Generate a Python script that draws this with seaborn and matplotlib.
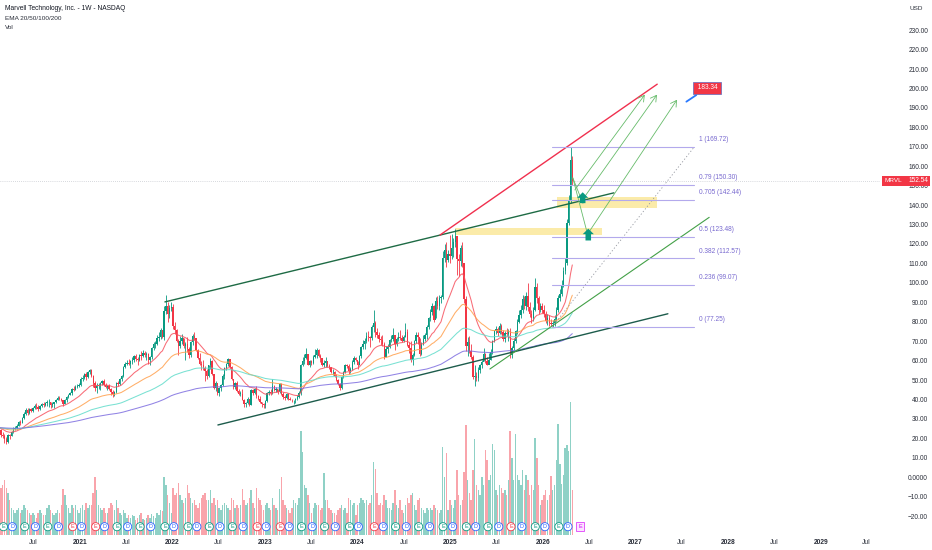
import numpy as np
import pandas as pd
import matplotlib
matplotlib.use("Agg")
import matplotlib.pyplot as plt
import matplotlib.dates as mdates
import matplotlib.transforms as mtransforms
from matplotlib.patches import Rectangle
import seaborn as sns

# ------------------------------------------------------------------ data
first_date = "2020-02-10"
first_open = 24.9

closes_2020 = [25.5, 24.5, 21.5, 21.0, 19.5, 18.0, 21.5, 21.0, 23.5, 25.0,
               25.5, 26.5, 28.5, 28.0, 30.5, 32.6, 34.5, 33.0, 35.0, 34.0,
               35.5, 36.5, 36.0, 35.0, 36.5, 37.5, 37.0, 38.0, 38.5, 38.5,
               37.0, 37.5, 38.5, 40.0, 41.0, 40.5, 39.5, 37.5, 40.0, 41.5,
               42.5, 43.5, 45.5, 45.0, 46.5, 47.0, 47.5]
highs_2020 = [26.4, 26.0, 24.8, 23.5, 22.0, 20.5, 22.5, 22.0, 24.0, 25.6,
              26.2, 27.5, 29.0, 29.5, 31.0, 33.5, 35.5, 35.8, 35.5, 35.8,
              36.0, 37.5, 38.0, 37.0, 37.2, 38.2, 38.5, 38.6, 39.5, 40.5,
              38.8, 38.5, 38.9, 40.5, 41.8, 42.0, 41.0, 40.0, 40.5, 42.0,
              43.0, 44.0, 46.0, 46.8, 47.5, 48.0, 48.5]
lows_2020 = [24.6, 24.0, 20.8, 20.3, 17.8, 16.9, 17.8, 19.8, 21.0, 23.0,
             24.2, 25.0, 26.3, 27.0, 28.0, 30.2, 32.0, 32.0, 32.5, 33.5,
             33.5, 35.0, 35.0, 34.0, 34.5, 36.0, 36.2, 36.8, 36.5, 36.0,
             35.5, 36.2, 35.8, 38.3, 39.8, 40.0, 39.0, 36.5, 37.5, 38.5,
             41.0, 42.2, 42.5, 44.5, 44.8, 46.0, 46.5]
vols_2020 = [60, 70, 95, 100, 110, 95, 85, 70, 55, 50,
             45, 50, 55, 45, 50, 60, 55, 50, 45, 40,
             45, 40, 35, 45, 50, 45, 40, 40, 55, 60,
             50, 45, 40, 45, 50, 45, 60, 92, 80, 60,
             55, 45, 60, 55, 60, 50, 45]

closes_2021 = [50.5, 51.0, 53.0, 51.5, 54.0, 55.0, 52.0, 48.5, 46.0, 47.0,
               47.5, 48.5, 49.5, 47.5, 46.5, 47.0, 45.5, 44.0, 43.0, 44.0,
               48.5, 48.0, 50.5, 52.0, 56.5, 58.5, 59.0, 58.5, 60.0, 60.5,
               62.5, 61.0, 60.5, 63.0, 62.5, 64.0, 63.0, 63.5, 60.5, 62.0,
               66.5, 68.5, 68.5, 71.5, 72.0, 75.5, 72.0, 85.5, 88.0, 84.0,
               87.0, 87.5]
highs_2021 = [51.5, 52.5, 53.8, 54.0, 54.5, 55.8, 55.5, 52.5, 49.5, 48.5,
              48.5, 49.0, 50.0, 50.5, 48.5, 47.5, 48.0, 46.0, 45.0, 44.5,
              49.0, 49.5, 51.0, 52.5, 57.0, 59.5, 60.5, 61.0, 60.5, 62.0,
              63.0, 63.5, 62.0, 63.5, 65.0, 65.5, 65.0, 64.5, 64.0, 62.5,
              67.0, 69.5, 70.0, 73.0, 74.5, 77.0, 76.0, 88.0, 93.8, 90.0,
              88.5, 90.0]
lows_2021 = [46.8, 49.5, 50.5, 50.0, 51.0, 53.2, 51.5, 46.5, 44.5, 43.5,
             45.5, 45.0, 47.5, 47.0, 45.8, 45.0, 45.0, 42.5, 41.5, 42.0,
             43.5, 47.0, 47.5, 49.5, 51.5, 56.0, 57.5, 57.5, 56.0, 58.5,
             59.5, 60.0, 58.0, 60.0, 60.5, 62.0, 62.0, 60.5, 58.5, 57.5,
             61.0, 65.5, 66.5, 68.0, 70.0, 71.0, 71.5, 70.5, 84.0, 80.0,
             82.0, 85.5]
vols_2021 = [55, 60, 50, 65, 55, 60, 60, 85, 116, 90,
             60, 55, 50, 55, 45, 45, 55, 65, 60, 50,
             70, 55, 45, 40, 50, 45, 35, 40, 35, 40,
             38, 30, 35, 40, 45, 32, 30, 35, 40, 35,
             42, 38, 35, 45, 40, 50, 48, 116, 100, 80,
             65, 45]

closes_2022 = [78.0, 75.5, 70.0, 67.5, 70.0, 71.5, 67.5, 68.5, 66.0, 63.0,
               69.5, 72.5, 71.5, 65.5, 61.5, 58.5, 58.0, 56.0, 54.5, 52.0,
               57.5, 60.0, 53.0, 46.0, 48.5, 43.5, 46.0, 47.5, 52.0, 56.0,
               58.5, 61.0, 56.5, 50.5, 46.5, 48.5, 44.5, 43.0, 43.0, 40.0,
               37.5, 38.0, 40.5, 37.0, 45.0, 43.5, 45.5, 42.0, 40.5, 38.5,
               37.5, 37.0]
highs_2022 = [89.0, 80.0, 76.5, 71.0, 72.5, 73.5, 71.5, 69.5, 72.0, 67.0,
              70.0, 73.5, 74.5, 71.0, 66.0, 64.0, 60.0, 60.5, 57.0, 55.5,
              58.0, 61.5, 60.5, 52.0, 49.5, 48.5, 46.5, 48.0, 53.0, 56.5,
              59.0, 61.5, 61.0, 57.0, 50.5, 49.0, 49.5, 45.5, 44.5, 45.5,
              40.5, 38.5, 41.5, 40.5, 45.5, 45.5, 46.0, 47.0, 42.5, 42.0,
              38.5, 38.0]
lows_2022 = [76.5, 73.5, 69.5, 63.0, 66.5, 68.5, 66.5, 60.5, 64.5, 61.5,
             62.0, 68.0, 70.5, 65.0, 61.0, 58.0, 55.0, 55.0, 49.5, 50.5,
             51.5, 55.5, 52.5, 45.5, 44.5, 42.5, 42.0, 44.5, 47.0, 50.5,
             55.0, 57.0, 56.0, 50.0, 45.5, 45.5, 44.0, 42.5, 42.0, 39.5,
             36.0, 36.0, 37.5, 36.5, 37.0, 42.5, 43.0, 41.0, 39.5, 38.0,
             36.0, 35.5]
vols_2022 = [95, 80, 85, 104, 80, 70, 65, 75, 100, 85,
             75, 65, 70, 60, 55, 65, 75, 80, 85, 70,
             70, 90, 65, 75, 60, 70, 55, 50, 60, 65,
             60, 55, 50, 75, 70, 55, 60, 55, 60, 92,
             70, 60, 65, 75, 90, 65, 55, 95, 75, 70,
             60, 50]

closes_2023 = [39.0, 43.5, 44.0, 43.5, 47.0, 45.0, 45.5, 44.0, 48.0, 43.0,
               41.5, 41.0, 43.0, 40.5, 40.0, 39.5, 39.5, 40.5, 41.5, 43.5,
               57.5, 60.0, 61.5, 63.5, 58.0, 59.8, 59.0, 62.0, 63.0, 65.5,
               62.5, 61.5, 57.5, 59.0, 60.0, 57.0, 56.5, 54.0, 54.2, 52.0,
               50.0, 48.0, 46.0, 51.5, 54.0, 57.5, 57.0, 54.5, 55.5, 59.5,
               61.5, 60.3]
highs_2023 = [39.5, 44.0, 45.0, 45.5, 50.5, 47.5, 46.5, 45.5, 48.5, 48.5,
              44.0, 42.5, 43.5, 43.5, 41.5, 40.5, 40.0, 41.0, 42.5, 44.5,
              58.5, 62.0, 63.5, 66.5, 63.5, 60.5, 60.5, 63.0, 66.0, 66.5,
              66.0, 63.5, 61.5, 60.5, 62.0, 60.0, 58.5, 56.5, 55.5, 54.5,
              53.0, 50.5, 48.5, 52.0, 54.5, 58.5, 58.5, 58.5, 56.5, 60.5,
              62.5, 62.0]
lows_2023 = [35.5, 38.5, 42.5, 42.5, 43.0, 44.5, 44.0, 43.0, 43.5, 42.5,
             40.5, 40.0, 40.5, 40.0, 39.5, 38.5, 37.5, 38.0, 40.0, 41.0,
             42.5, 57.0, 58.5, 61.0, 57.5, 56.5, 58.0, 58.5, 61.5, 61.5,
             62.0, 59.5, 57.0, 56.5, 56.5, 56.5, 55.5, 53.5, 52.5, 51.5,
             49.5, 47.5, 45.0, 45.5, 51.0, 53.5, 56.0, 53.0, 53.5, 55.0,
             58.5, 60.0]
vols_2023 = [60, 65, 55, 50, 75, 60, 55, 50, 92, 116,
             70, 60, 55, 50, 45, 55, 70, 65, 60, 75,
             208, 166, 100, 95, 80, 65, 45, 55, 65, 60,
             60, 50, 55, 124, 70, 70, 55, 50, 45, 45,
             40, 50, 55, 60, 50, 55, 45, 75, 70, 60,
             65, 40]

closes_2024 = [58.0, 62.5, 67.0, 68.5, 70.0, 72.5, 72.0, 71.5, 77.5, 79.5,
               74.5, 73.0, 70.9, 70.5, 68.5, 62.0, 66.0, 67.0, 70.5, 71.0,
               73.0, 68.5, 71.0, 72.0, 71.5, 70.0, 72.0, 74.5, 68.0, 66.5,
               60.5, 63.0, 70.0, 73.0, 72.0, 63.5, 68.5, 71.0, 73.0, 77.5,
               82.0, 85.0, 88.0, 81.0, 90.5, 88.0, 92.0, 92.7, 113.0, 117.0,
               112.0, 115.0, 114.0]
highs_2024 = [60.0, 63.0, 67.5, 70.5, 71.5, 74.5, 75.0, 72.5, 78.5, 85.8,
              80.5, 77.0, 74.5, 72.5, 73.0, 69.5, 67.5, 68.5, 71.0, 73.0,
              77.0, 72.5, 72.0, 74.5, 76.0, 73.0, 73.0, 79.5, 76.5, 69.5,
              70.0, 64.0, 70.5, 74.5, 74.5, 71.5, 69.5, 73.0, 74.0, 78.5,
              82.5, 86.5, 89.5, 88.5, 92.5, 93.0, 93.5, 94.0, 116.5, 120.0,
              121.0, 117.0, 124.5]
lows_2024 = [55.5, 57.5, 61.5, 66.0, 66.0, 69.0, 70.0, 67.0, 70.5, 74.5,
             72.0, 71.5, 69.5, 68.0, 67.5, 61.0, 62.0, 64.0, 66.5, 69.5,
             70.0, 65.5, 67.5, 70.0, 70.5, 69.5, 69.5, 72.0, 67.5, 64.0,
             59.5, 57.5, 62.5, 69.0, 68.5, 62.5, 63.0, 68.0, 70.0, 71.0,
             76.5, 80.5, 83.5, 80.0, 82.0, 86.5, 86.0, 89.5, 91.5, 110.5,
             108.0, 110.5, 110.0]
vols_2024 = [60, 65, 75, 70, 65, 70, 60, 65, 80, 146,
             132, 85, 60, 65, 60, 80, 70, 55, 55, 50,
             65, 90, 60, 55, 70, 50, 45, 60, 75, 65,
             80, 85, 60, 50, 70, 75, 55, 50, 45, 55,
             50, 55, 50, 60, 55, 50, 45, 50, 176, 116,
             164, 50, 70]

closes_2025 = [118.0, 121.0, 124.0, 112.5, 111.0, 118.0, 110.0, 91.5, 67.5, 69.5,
               65.0, 62.0, 51.5, 52.0, 51.0, 55.0, 57.5, 59.5, 63.5, 60.0,
               57.8, 60.5, 64.5, 70.0, 75.0, 76.5, 74.0, 78.0, 74.5, 71.0,
               74.0, 73.5, 75.0, 63.0, 66.5, 70.0, 75.0, 80.0, 83.5, 86.0,
               91.5, 88.0, 93.0, 87.5, 84.0, 82.0, 86.0, 98.0, 92.0, 86.0,
               88.0, 86.0]
highs_2025 = [125.0, 123.0, 127.5, 124.0, 115.0, 119.5, 121.0, 109.5, 93.0, 72.0,
              72.5, 68.5, 63.0, 58.0, 54.0, 56.5, 58.5, 60.5, 66.5, 64.0,
              62.0, 64.0, 66.0, 70.5, 76.0, 78.0, 77.5, 79.5, 79.0, 76.0,
              75.0, 77.0, 76.5, 77.0, 67.5, 71.5, 76.0, 81.5, 86.0, 88.5,
              94.0, 93.0, 95.5, 100.0, 90.0, 86.0, 87.5, 102.5, 100.0, 93.0,
              89.5, 89.5]
lows_2025 = [112.5, 113.5, 118.5, 104.0, 103.5, 108.5, 108.0, 89.5, 65.0, 62.5,
             64.0, 61.0, 50.5, 47.1, 49.5, 49.5, 53.5, 56.0, 60.0, 59.0,
             57.5, 58.5, 60.5, 63.5, 69.5, 73.5, 72.5, 73.5, 73.5, 70.0,
             69.5, 72.5, 70.0, 61.5, 61.5, 65.5, 69.0, 73.5, 79.5, 82.0,
             84.5, 86.5, 86.0, 85.5, 82.5, 79.5, 80.5, 85.5, 89.5, 84.0,
             85.0, 84.5]
vols_2025 = [60, 55, 70, 130, 80, 60, 70, 126, 220, 110,
             85, 70, 130, 192, 100, 90, 80, 116, 100, 170,
             150, 110, 120, 182, 170, 90, 80, 100, 95, 85,
             90, 80, 110, 208, 154, 110, 202, 120, 110, 100,
             130, 90, 120, 110, 80, 100, 90, 194, 154, 100,
             60, 70]

closes_2026 = [84.0, 80.5, 82.0, 79.5, 79.0, 79.5, 81.5, 86.0, 92.0, 94.5,
               99.0, 106.0, 110.0, 131.0, 142.0, 163.0, 152.54]
highs_2026 = [88.5, 85.5, 84.0, 83.5, 81.5, 81.0, 83.5, 87.5, 94.0, 97.0,
              101.5, 108.0, 113.0, 133.0, 145.0, 169.72, 165.0]
lows_2026 = [82.5, 79.5, 78.5, 78.0, 77.8, 77.25, 78.0, 80.5, 85.0, 90.5,
             93.0, 98.0, 104.5, 109.0, 130.0, 141.0, 150.5]
vols_2026 = [80, 90, 70, 80, 118, 90, 100, 150, 222, 142,
             102, 120, 174, 180, 168, 266, 90]

ema_periods = [20, 50, 100, 200]
ema_colors = ["#f7525f", "#ffa04d", "#62dccb", "#7e6ee0"]

y_ticks = list(range(-20, 240, 10))
x_tick_dates = ["2020-07-01", "2021-01-01", "2021-07-01", "2022-01-01", "2022-07-01",
                "2023-01-01", "2023-07-01", "2024-01-01", "2024-07-01", "2025-01-01",
                "2025-07-01", "2026-01-01", "2026-07-01", "2027-01-01", "2027-07-01",
                "2028-01-01", "2028-07-01", "2029-01-01", "2029-07-01"]
x_tick_labels = ["Jul", "2021", "Jul", "2022", "Jul", "2023", "Jul", "2024", "Jul", "2025",
                 "Jul", "2026", "Jul", "2027", "Jul", "2028", "Jul", "2029", "Jul"]

earn_dates = ["2020-03-05", "2020-05-28", "2020-08-27", "2020-12-03", "2021-03-04",
              "2021-05-27", "2021-08-26", "2021-12-02", "2022-03-03", "2022-05-26",
              "2022-08-25", "2022-12-01", "2023-03-02", "2023-05-25", "2023-08-24",
              "2023-11-30", "2024-03-07", "2024-05-30", "2024-08-29", "2024-12-03",
              "2025-03-05", "2025-05-29", "2025-08-28", "2025-12-02", "2026-03-05"]
earn_beat = [1, 1, 1, 0, 0, 1, 1, 1, 1, 1, 1, 0, 0, 1, 1, 1, 0, 1, 1, 1, 1, 1, 0, 1, 1]
next_earn = "2026-05-28"
div_dates = ["2020-04-09", "2020-07-09", "2020-10-08", "2021-01-07", "2021-04-08",
             "2021-07-08", "2021-10-07", "2022-01-06", "2022-04-07", "2022-07-07",
             "2022-10-06", "2023-01-05", "2023-04-06", "2023-07-06", "2023-10-05",
             "2024-01-04", "2024-04-11", "2024-07-11", "2024-10-11", "2025-01-10",
             "2025-04-11", "2025-07-11", "2025-10-10", "2026-01-09", "2026-04-10"]

# drawings (anchor points: date, price)
upper_channel = [("2021-12-02", 90.2), ("2026-10-08", 146.3)]
lower_channel = [("2022-06-29", 26.9), ("2027-05-09", 84.1)]
red_line = [("2024-11-21", 124.6), ("2027-03-28", 202.2)]
green_line = [("2025-06-06", 55.7), ("2027-10-19", 133.7)]
fib_start, fib_end = "2026-02-06", "2027-08-20"
fib_ratios = ["1", "0.79", "0.705", "0.5", "0.382", "0.236", "0"]
fib_values = [169.72, 150.30, 142.44, 123.48, 112.57, 99.07, 77.25]
zones = [("2026-02-26", "2027-03-28", 138.4, 144.3),
         ("2025-01-19", "2026-08-21", 124.4, 128.1)]
big_arrows = [("2026-06-07", 141.0, 146.6), ("2026-06-29", 121.8, 127.9)]
down_paths = [(("2026-04-29", 154.0), ("2026-06-08", 140.9)),
              (("2026-04-29", 154.0), ("2026-06-28", 124.1))]
target_paths = [(("2026-05-07", 147.8), ("2027-02-07", 196.8)),
                (("2026-06-12", 143.8), ("2027-03-27", 196.8)),
                (("2026-07-02", 126.2), ("2027-06-14", 194.2))]
note_text = "183.34"
note_anchor = ("2027-10-12", 200.3)
note_pointer = [("2027-07-21", 193.2), ("2027-08-29", 196.6)]
last_price = 152.54

# ------------------------------------------------------------------ prep
closes = np.array(closes_2020 + closes_2021 + closes_2022 + closes_2023 + closes_2024 + closes_2025 + closes_2026)
highs = np.array(highs_2020 + highs_2021 + highs_2022 + highs_2023 + highs_2024 + highs_2025 + highs_2026)
lows = np.array(lows_2020 + lows_2021 + lows_2022 + lows_2023 + lows_2024 + lows_2025 + lows_2026)
vols = np.array(vols_2020 + vols_2021 + vols_2022 + vols_2023 + vols_2024 + vols_2025 + vols_2026)
n = len(closes)
if not (len(highs) == len(lows) == len(vols) == n):
    raise SystemExit(f"length mismatch {n} {len(highs)} {len(lows)} {len(vols)}")
opens = np.concatenate([[first_open], closes[:-1]])
dates = pd.date_range(first_date, periods=n, freq="W-MON")
xd = mdates.date2num(dates.to_pydatetime())

df = pd.DataFrame({"x": xd, "close": closes})
for p in ema_periods:
    df[f"ema{p}"] = df["close"].ewm(span=p, adjust=False).mean()


def D(s):
    return mdates.date2num(pd.Timestamp(s).to_pydatetime())


UP, DOWN = "#089981", "#f23645"
up = closes >= opens
cols = np.where(up, UP, DOWN)

# ------------------------------------------------------------------ figure
sns.set_theme(style="white")
plt.rcParams["font.family"] = ["Liberation Sans", "DejaVu Sans"]

W, H = 932, 550
fig = plt.figure(figsize=(W / 100, H / 100), dpi=100, facecolor="white")
pos = [0, 15 / H, 880 / W, 535 / H]
vax = fig.add_axes(pos, zorder=0)
ax = fig.add_axes(pos, zorder=1)
ax.patch.set_alpha(0)

x0 = D("2021-01-01") - 315.6
x1 = D("2021-01-01") + 3155.8
for a in (ax, vax):
    a.set_xlim(x0, x1)
    for s in a.spines.values():
        s.set_visible(False)

# volume
vax.bar(xd, vols, width=5.6, color=cols, alpha=0.45, linewidth=0)
vax.set_ylim(0, 1070)
vax.set_xticks([])
vax.set_yticks([])

# candles
ax.vlines(xd, lows, highs, colors=cols, linewidth=0.6, zorder=3)
body_lo = np.minimum(opens, closes)
body_h = np.maximum(np.abs(closes - opens), 0.4)
ax.bar(xd, body_h, bottom=body_lo, width=5.4, color=cols, linewidth=0, zorder=3)

# EMAs
for p, c in zip(ema_periods, ema_colors):
    sns.lineplot(data=df, x="x", y=f"ema{p}", ax=ax, color=c, linewidth=0.75,
                 alpha=0.85, estimator=None, sort=False, legend=False, zorder=4)

ax.set_ylim(-29.7, 245.5)
ax.set_xlabel("")
ax.set_ylabel("")

# last price line
ax.axhline(last_price, color="#b2b5be", linewidth=0.5, linestyle=(0, (1, 2)), zorder=2)

# yellow zones
for a_, b_, lo_, hi_ in zones:
    ax.add_patch(Rectangle((D(a_), lo_), D(b_) - D(a_), hi_ - lo_, facecolor="#fbe89a",
                           edgecolor="none", alpha=0.85, zorder=1))

# trend lines
def seg(pts, **kw):
    ax.plot([D(pts[0][0]), D(pts[1][0])], [pts[0][1], pts[1][1]], **kw)

seg(upper_channel, color="#1e6b45", linewidth=1.0, zorder=5)
seg(lower_channel, color="#1d5c4c", linewidth=1.0, zorder=5)
seg(red_line, color="#f0304e", linewidth=1.0, zorder=5)
seg(green_line, color="#43a047", linewidth=0.8, zorder=5)

# fib retracement
fx0, fx1 = D(fib_start), D(fib_end)
ax.plot([fx0, fx1], [fib_values[-1], fib_values[0]], color="#9598a1", linewidth=0.6,
        linestyle=(0, (1.5, 2.5)), zorder=5)
for r, v in zip(fib_ratios, fib_values):
    ax.plot([fx0, fx1], [v, v], color="#b3a9ec", linewidth=0.8, zorder=5)
    ax.text(fx1 + 20, v + 2.0, f"{r} ({v:.2f})", fontsize=4.7, color="#7768cf",
            ha="left", va="bottom", zorder=6)

# projection paths
for p0, p1 in down_paths:
    seg((p0, p1), color="#66bb6a", linewidth=0.6, zorder=6)
for p0, p1 in target_paths:
    ax.annotate("", xy=(D(p1[0]), p1[1]), xytext=(D(p0[0]), p0[1]),
                arrowprops=dict(arrowstyle="->,head_length=0.35,head_width=0.2",
                                color="#66bb6a", linewidth=0.6, shrinkA=0, shrinkB=0),
                zorder=6)

# big up arrows
for d_, lo_, hi_ in big_arrows:
    ax.annotate("", xy=(D(d_), hi_), xytext=(D(d_), lo_),
                arrowprops=dict(arrowstyle="simple,head_length=0.5,head_width=1.0,tail_width=0.5",
                                facecolor=UP, edgecolor="none", mutation_scale=8,
                                shrinkA=0, shrinkB=0),
                zorder=7)

# price note
ax.plot([D(note_pointer[0][0]), D(note_pointer[1][0])], [note_pointer[0][1], note_pointer[1][1]],
        color="#2979ff", linewidth=1.3, zorder=7, solid_capstyle="round")
ax.text(D(note_anchor[0]), note_anchor[1], f" {note_text} ", fontsize=4.7, color="white",
        ha="center", va="center", zorder=8,
        bbox=dict(boxstyle="square,pad=0.35", facecolor="#f23645", edgecolor="#5c6bc0", linewidth=0.5))

# earnings / dividend markers
btrans = mtransforms.blended_transform_factory(ax.transData, ax.transAxes)
for d_, b in zip(earn_dates, earn_beat):
    c = UP if b else DOWN
    ax.text(D(d_), 0.0155, "E", transform=btrans, fontsize=4.0, color=c, ha="center",
            va="center", zorder=9, clip_on=False,
            bbox=dict(boxstyle="circle,pad=0.28", facecolor="white", edgecolor=c, linewidth=0.6))
ax.text(D(next_earn), 0.0155, "E", transform=btrans, fontsize=4.0, color="#d500f9", ha="center",
        va="center", zorder=9, clip_on=False,
        bbox=dict(boxstyle="square,pad=0.35", facecolor="#fbe3ff", edgecolor="#e040fb", linewidth=0.6))
for d_ in div_dates:
    ax.text(D(d_), 0.0155, "D", transform=btrans, fontsize=4.0, color="#2962ff", ha="center",
            va="center", zorder=9, clip_on=False,
            bbox=dict(boxstyle="circle,pad=0.28", facecolor="white", edgecolor="#2962ff", linewidth=0.6))

# axes ticks
ax.set_yticks(y_ticks)
ax.set_yticklabels(["0.0000" if v == 0 else f"{v:.2f}".replace("-", "\u2212") for v in y_ticks])
ax.yaxis.tick_right()
ax.tick_params(axis="y", length=0, pad=34.6, labelsize=4.7, labelcolor="#2a2e39")
for lab in ax.get_yticklabels():
    lab.set_horizontalalignment("right")

ax.set_xticks([D(s) for s in x_tick_dates])
ax.set_xticklabels(x_tick_labels)
ax.tick_params(axis="x", length=0, pad=3.2, labelsize=4.8, labelcolor="#2a2e39")
for lab in ax.get_xticklabels():
    if lab.get_text() != "Jul":
        lab.set_fontweight("bold")
ax.grid(False)

# header texts
fig.text(5 / W, 1 - 8.5 / H, "Marvell Technology, Inc. - 1W - NASDAQ", fontsize=4.8,
         color="#131722", va="center", ha="left")
fig.text(5 / W, 1 - 18 / H, "EMA 20/50/100/200", fontsize=4.6, color="#2a2e39", va="center", ha="left")
fig.text(5 / W, 1 - 27.5 / H, "Vol", fontsize=4.6, color="#2a2e39", va="center", ha="left")
fig.text(916 / W, 1 - 9 / H, "USD", fontsize=4.6, color="#2a2e39", va="center", ha="center")

# last price label
fig.add_artist(Rectangle((882 / W, 1 - 185.5 / H), 48 / W, 9.5 / H, transform=fig.transFigure,
                         facecolor="#f23645", edgecolor="none", zorder=10))
fig.text(893.5 / W, 1 - 180.8 / H, "MRVL", fontsize=4.6, color="white", ha="center", va="center", zorder=11)
fig.text(918 / W, 1 - 180.8 / H, f"{last_price:.2f}", fontsize=4.7, color="white", ha="center",
         va="center", zorder=11)

fig.savefig("out.png", dpi=100, facecolor="white")
